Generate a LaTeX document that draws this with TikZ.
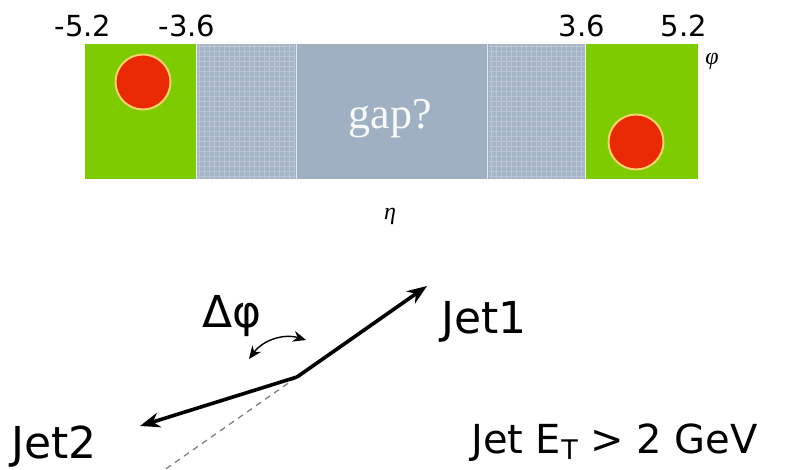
\documentclass[tikz,border=0pt]{standalone}
\usepackage{fontspec}
\setmainfont{DejaVu Sans}
\newfontfamily\serifgap{Liberation Serif}
\usetikzlibrary{arrows.meta}
\definecolor{calgreen}{HTML}{7ECB00}
\definecolor{gapgray}{HTML}{9EB0C2}
\definecolor{hatchbase}{HTML}{A6B5C6}
\definecolor{hatchline}{HTML}{BAC6D4}
\definecolor{jetred}{HTML}{EA2A05}
\definecolor{rimyellow}{HTML}{F2D46A}
\tikzset{
  numlabel/.style={font=\fontsize{29}{29}\selectfont, inner sep=0pt},
  jetlabel/.style={font=\fontsize{44}{44}\selectfont, inner sep=0pt},
  cutlabel/.style={font=\fontsize{40}{40}\selectfont, inner sep=0pt},
  greeklabel/.style={font=\serifgap\itshape\fontsize{24}{24}\selectfont, inner sep=0pt},
  jetdot/.style={circle, fill=jetred, draw=rimyellow, line width=2pt, minimum size=55pt, inner sep=0pt},
  jetarrow/.style={line width=3.6pt, -{Stealth[length=20pt,width=15pt]}},
  hatch/.style={fill=hatchbase}
}
\begin{document}
\begin{tikzpicture}[x=1pt,y=-1pt]
\useasboundingbox (0,0) rectangle (791,470);
% calorimeter strip
\fill[calgreen] (85,44) rectangle (196,179);
\fill[calgreen] (586,44) rectangle (698,179);
\fill[gapgray] (196,44) rectangle (586,179);
\fill[hatchbase] (197,44) rectangle (295,179);
\fill[hatchbase] (489,44) rectangle (585,179);
\begin{scope}
\clip (197,44) rectangle (295,179);
\foreach \x in {199,204,...,295} \draw[hatchline, line width=0.8pt] (\x,44) -- (\x,179);
\foreach \y in {46,51,...,179} \draw[hatchline, line width=0.8pt] (197,\y) -- (295,\y);
\end{scope}
\begin{scope}
\clip (489,44) rectangle (585,179);
\foreach \x in {491,496,...,585} \draw[hatchline, line width=0.8pt] (\x,44) -- (\x,179);
\foreach \y in {46,51,...,179} \draw[hatchline, line width=0.8pt] (489,\y) -- (585,\y);
\end{scope}
\draw[white!85!gapgray, line width=1.5pt] (196.5,44) -- (196.5,179);
\draw[white!70!gapgray, line width=1.5pt] (296.5,44) -- (296.5,179);
\draw[white!70!gapgray, line width=1.5pt] (487.5,44) -- (487.5,179);
\draw[white!85!gapgray, line width=1.5pt] (585.5,44) -- (585.5,179);
\node[jetdot] (dotL) at (143,82) {};
\node[jetdot] (dotR) at (636,142) {};
\node[font=\serifgap\fontsize{44}{44}\selectfont, text=white!92!gapgray, inner sep=0pt] (gap) at (390,119) {gap?};
% eta labels
\node[numlabel] (m52) at (83,26) {-5.2};
\node[numlabel] (m36) at (187,26) {-3.6};
\node[numlabel] (p36) at (582,26) {3.6};
\node[numlabel] (p52) at (684,26) {5.2};
\node[greeklabel] (phi) at (712,61) {φ};
\node[greeklabel] (eta) at (390,216) {η};
% jets
\coordinate (vtx) at (297,377);
\coordinate (tip1) at (427,286);
\coordinate (tip2) at (140,426);
\coordinate (back) at (160,473);
\draw[gray, line width=1.3pt, dash pattern=on 6pt off 5pt] (vtx) -- (back);
\draw[jetarrow] (vtx) -- (tip1);
\draw[jetarrow] (vtx) -- (tip2);
\coordinate (arcA) at (249,359);
\coordinate (arcB) at (306,340);
\draw[line width=1.4pt, {Stealth[length=13pt,width=11pt]}-{Stealth[length=13pt,width=11pt]}] (arcA) to[bend left=35] (arcB);
\node[jetlabel] (dphi) at (232,316) {Δφ};
\node[jetlabel, anchor=base west] (jet1) at (441,333) {Jet1};
\node[jetlabel, anchor=base west] (jet2) at (11,458) {Jet2};
\node[cutlabel, anchor=base west] (cut) at (471,453) {Jet E\raisebox{-0.3ex}{\fontsize{27}{27}\selectfont T} > 2 GeV};
\end{tikzpicture}
\end{document}
